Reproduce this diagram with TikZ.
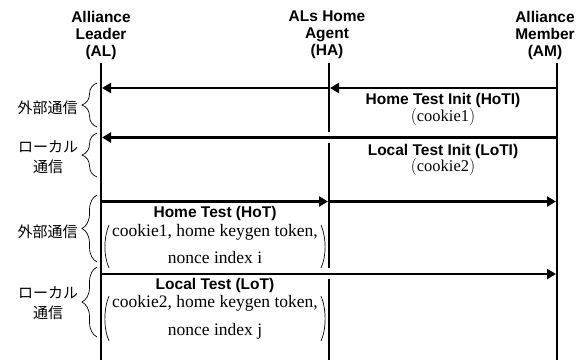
\documentclass[tikz,border=0pt]{standalone}
\usepackage{fontspec}
\setmainfont{Liberation Serif}
\setsansfont{Liberation Sans}
\newfontfamily\cjk{Noto Sans CJK JP}
\usetikzlibrary{arrows.meta,decorations.pathreplacing}
\newcommand{\tallpar}[1]{$\left(\vrule height 12pt depth 5pt width 0pt\mbox{#1}\right)$}
\begin{document}
\begin{tikzpicture}[x=1pt,y=-1pt,
  life/.style={line width=1.7pt},
  msg/.style={line width=2.4pt,-{Triangle[length=9pt,width=10pt]}},
  brc/.style={decorate,decoration={brace,amplitude=15pt},line width=0.7pt},
  head/.style={font=\fontsize{15.5}{17}\selectfont\sffamily\bfseries,align=center,inner sep=0pt},
  ttl/.style={font=\fontsize{15.5}{17}\selectfont\sffamily\bfseries,inner sep=0pt},
  par/.style={font=\fontsize{17.5}{19}\selectfont\rmfamily,inner sep=0pt},
  ptop/.style={font=\fontsize{16.5}{18}\selectfont\rmfamily,inner sep=0pt},
  jp/.style={font=\fontsize{15}{20}\selectfont\cjk,align=center,inner sep=0pt},
  prn/.style={line width=0.7pt}]
\useasboundingbox (0,0) rectangle (583,360);

% headers
\node[head] (hAL) at (101,35) {Alliance\\Leader\\(AL)};
\node[head] (hHA) at (327,35) {ALs Home\\Agent\\(HA)};
\node[head] (hAM) at (545,35) {Alliance\\Member\\(AM)};

% lifeline coordinates
\coordinate (ALt) at (101,63);
\coordinate (ALb) at (101,360);
\coordinate (HAt) at (329,63);
\coordinate (HAg1) at (329,132);
\coordinate (HAg2) at (329,143);
\coordinate (HAg3) at (329,268);
\coordinate (HAg4) at (329,279);
\coordinate (HAb) at (329,360);
\coordinate (AMt) at (557,63);
\coordinate (AMb) at (557,360);

\draw[life] (ALt) -- (ALb);
\draw[life] (HAt) -- (HAg1);
\draw[life] (HAg2) -- (HAg3);
\draw[life] (HAg4) -- (HAb);
\draw[life] (AMt) -- (AMb);

% message coordinates
\coordinate (AL1) at (102,88);
\coordinate (HA1) at (330,88);
\coordinate (AM1) at (557,88);
\coordinate (AL2) at (102,137.5);
\coordinate (AM2) at (557,137.5);
\coordinate (AL3) at (101,201.5);
\coordinate (HA3) at (328,201.5);
\coordinate (AM3) at (556,201.5);
\coordinate (AL4) at (101,274);
\coordinate (AM4) at (556,274);

\draw[msg] (AM1) -- (HA1);
\draw[msg] (HA1) -- (AL1);
\draw[msg] (AM2) -- (AL2);
\draw[msg] (AL3) -- (HA3);
\draw[msg] (HA3) -- (AM3);
\draw[msg] (AL4) -- (AM4);

% message labels
\node[ttl] (tHoTI) at (443,100.5) {Home Test Init (HoTI)};
\node[ptop] (pHoTI) at (443,118) {\tallpar{cookie1}};
\node[ttl] (tLoTI) at (443,151) {Local Test Init (LoTI)};
\node[ptop] (pLoTI) at (443,168) {\tallpar{cookie2}};

\node[ttl] (tHoT) at (215,213) {Home Test (HoT)};
\node[par] (aHoT) at (215,232) {cookie1, home keygen token,};
\node[par] (bHoT) at (215,258) {nonce index i};
\draw[prn] (109,225) .. controls (103.5,238) and (103.5,256) .. (109,268);
\draw[prn] (321,225) .. controls (326.5,238) and (326.5,256) .. (321,268);

\node[ttl] (tLoT) at (215,285) {Local Test (LoT)};
\node[par] (aLoT) at (215,303) {cookie2, home keygen token,};
\node[par] (bLoT) at (215,331) {nonce index j};
\draw[prn] (109,296) .. controls (103.5,309) and (103.5,329) .. (109,341);
\draw[prn] (321,296) .. controls (326.5,309) and (326.5,329) .. (321,341);

% braces
\coordinate (b1a) at (97,127);
\coordinate (b1b) at (97,83);
\coordinate (b2a) at (97,177);
\coordinate (b2b) at (97,133);
\coordinate (b3a) at (97,262);
\coordinate (b3b) at (97,195);
\coordinate (b4a) at (97,337);
\coordinate (b4b) at (97,267);
\draw[brc] (b1a) -- (b1b);
\draw[brc] (b2a) -- (b2b);
\draw[brc] (b3a) -- (b3b);
\draw[brc] (b4a) -- (b4b);

\node[jp] (j1) at (47.5,108) {外部通信};
\node[jp] (j2) at (48,157) {ローカル\\通信};
\node[jp] (j3) at (47.5,232) {外部通信};
\node[jp] (j4) at (48,303) {ローカル\\通信};
\end{tikzpicture}
\end{document}
